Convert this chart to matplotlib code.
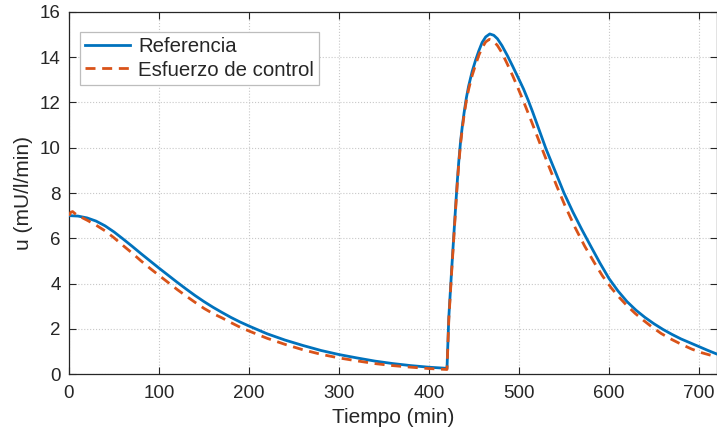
import numpy as np
import matplotlib
matplotlib.use("Agg")
import matplotlib.pyplot as plt

plt.rcParams['font.family'] = ['Liberation Sans', 'DejaVu Sans']

# Referencia
t_ref = [0, 10, 20, 30, 40, 50, 60, 70, 80, 90, 100, 110, 120, 130, 140, 150, 160, 170, 180, 190,
         200, 220, 240, 260, 280, 300, 320, 340, 360, 380, 400, 420,
         422, 423.5, 425, 426.5, 428, 430, 431.5, 433, 435, 437, 439, 441.5, 444, 448, 452, 455.5,
         459, 463, 467.5, 472, 476, 481, 487, 493, 500, 505, 510, 515, 520, 525, 530, 540, 550,
         560, 570, 580, 590, 600, 610, 620, 630, 640, 650, 660, 670, 680, 690, 700, 710, 720]
u_ref = [7.0, 6.98, 6.9, 6.76, 6.55, 6.28, 5.97, 5.65, 5.32, 5.0, 4.68, 4.37, 4.06, 3.76, 3.47, 3.2,
         2.95, 2.72, 2.5, 2.3, 2.12, 1.78, 1.5, 1.26, 1.04, 0.86, 0.71, 0.57, 0.46, 0.37, 0.30, 0.25,
         2.5, 3.5, 4.5, 5.45, 6.4, 7.65, 8.55, 9.35, 10.25, 10.95, 11.55, 12.2, 12.72, 13.38, 13.9, 14.3,
         14.65, 14.9, 15.03, 14.97, 14.82, 14.52, 14.08, 13.6, 13.02, 12.6, 12.12, 11.6, 11.05, 10.5,
         9.95, 8.98, 8.0, 7.15, 6.37, 5.63, 4.9, 4.22, 3.67, 3.2, 2.82, 2.5, 2.22, 1.97, 1.75, 1.55,
         1.38, 1.21, 1.04, 0.88]

# Esfuerzo de control
t_ctl = [0, 2, 4, 7, 10, 20, 30, 40, 50, 60, 70, 80, 90, 100, 110, 120, 130, 140, 150, 160, 170,
         180, 190, 200, 220, 240, 260, 280, 300, 320, 340, 360, 380, 400, 420,
         422, 423.5, 425, 426.5, 428, 430, 431.5, 433, 435, 437, 439, 441.5, 444, 448, 452, 455.5,
         459, 463, 467, 471, 476, 481, 487, 493, 498, 505, 514, 523, 533, 542, 551, 562, 573, 584,
         593, 603, 612, 620, 629, 638, 648, 658, 670, 681, 692, 703, 712, 720]
u_ctl = [7.0, 7.15, 7.18, 7.08, 7.0, 6.8, 6.58, 6.33, 6.02, 5.68, 5.35, 5.0, 4.67, 4.36, 4.05, 3.74,
         3.45, 3.17, 2.9, 2.67, 2.48, 2.27, 2.07, 1.9, 1.58, 1.31, 1.07, 0.87, 0.71, 0.58, 0.46, 0.37,
         0.3, 0.24, 0.2,
         2.4, 3.4, 4.4, 5.35, 6.3, 7.55, 8.45, 9.25, 10.15, 10.85, 11.45, 12.08, 12.58, 13.2, 13.7, 14.1,
         14.42, 14.68, 14.79, 14.74, 14.52, 14.2, 13.7, 13.18, 12.72, 12.05, 11.15, 10.22, 9.2, 8.3,
         7.45, 6.5, 5.65, 4.9, 4.32, 3.78, 3.36, 3.02, 2.68, 2.38, 2.07, 1.79, 1.52, 1.3, 1.1, 0.94,
         0.84, 0.77]

dark = '#262626'
fig = plt.figure(figsize=(7.17, 4.36), dpi=100)
ax = fig.add_axes([69 / 717, 62 / 436, 648 / 717, 362 / 436])

ax.plot(t_ref, u_ref, color='#0072BD', lw=2.0, label='Referencia', zorder=3)
ax.plot(t_ctl, u_ctl, color='#D95319', lw=2.0, ls=(0, (3.6, 2.4)),
        label='Esfuerzo de control', zorder=4)

ax.set_xlim(0, 720)
ax.set_ylim(0, 16)
ax.set_xticks(np.arange(0, 701, 100))
ax.set_yticks(np.arange(0, 17, 2))
ax.grid(True, ls=':', color='#c8c8c8', lw=0.8)
ax.tick_params(direction='in', length=5, width=0.8, colors=dark, labelsize=13.5,
               top=True, right=True, labelcolor=dark)
ax.tick_params(axis='x', pad=8)
ax.tick_params(axis='y', pad=6)
for s in ax.spines.values():
    s.set_color(dark)
    s.set_linewidth(0.9)

ax.set_xlabel('Tiempo (min)', fontsize=15, color=dark, labelpad=4)
ax.set_ylabel('u (mU/l/min)', fontsize=15, color=dark, labelpad=5)

leg = ax.legend(loc='upper left', bbox_to_anchor=(0.017, 0.945), borderaxespad=0,
                fontsize=14.7, handlelength=2.2, handletextpad=0.4, labelspacing=0.22,
                borderpad=0.25, fancybox=False, framealpha=1, edgecolor='#bdbdbd')
leg.get_frame().set_linewidth(0.9)
for txt in leg.get_texts():
    txt.set_color(dark)

fig.savefig('out.png', dpi=100)
